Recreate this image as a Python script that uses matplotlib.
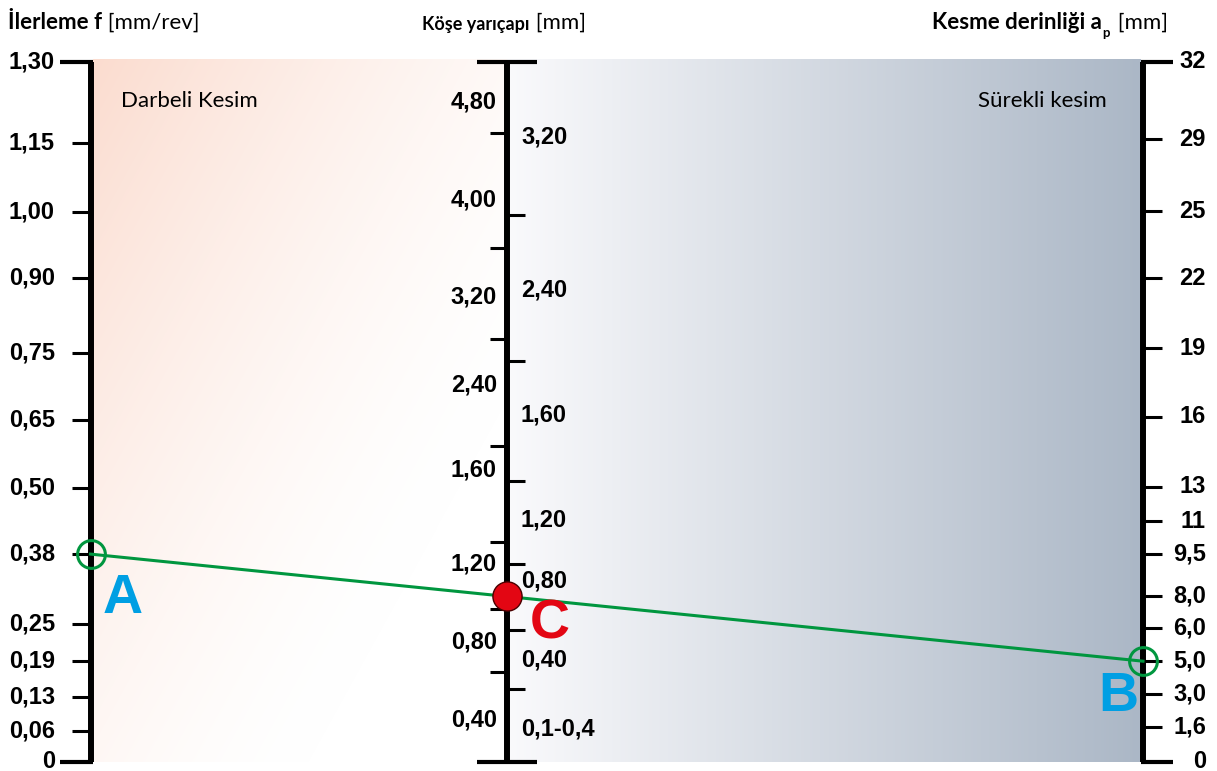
import numpy as np
import matplotlib.pyplot as plt

# feed scale (left), value -> reading along the scale (0 = bottom, 1 = top)
feed_values = [1.30, 1.15, 1.00, 0.90, 0.75, 0.65, 0.50, 0.38, 0.25, 0.19, 0.13, 0.06, 0]
feed_labels = ['1,30', '1,15', '1,00', '0,90', '0,75', '0,65', '0,50', '0,38', '0,25', '0,19',
               '0,13', '0,06', '0']
feed_scale = [1.0, 0.884, 0.786, 0.691, 0.584, 0.489, 0.391, 0.297, 0.197, 0.144, 0.093, 0.044, 0.0]

# depth of cut scale (right)
depth_values = [32, 29, 25, 22, 19, 16, 13, 11, 9.5, 8.0, 6.0, 5.0, 3.0, 1.6, 0]
depth_labels = ['32', '29', '25', '22', '19', '16', '13', '11', '9,5', '8,0', '6,0', '5,0',
                '3,0', '1,6', '0']
depth_scale = [1.0, 0.890, 0.787, 0.691, 0.591, 0.493, 0.393, 0.344, 0.297, 0.237, 0.191,
               0.144, 0.097, 0.050, 0.0]

# corner radius scale (middle): two columns of range labels
radius_left_labels = ['4,80', '4,00', '3,20', '2,40', '1,60', '1,20', '0,80', '0,40']
radius_left_label_scale = [0.943, 0.803, 0.664, 0.539, 0.417, 0.283, 0.171, 0.060]
radius_left_ticks = [0.899, 0.734, 0.604, 0.451, 0.314, 0.219, 0.129]
radius_right_labels = ['3,20', '2,40', '1,60', '1,20', '0,80', '0,40', '0,1-0,4']
radius_right_label_scale = [0.893, 0.674, 0.496, 0.346, 0.259, 0.146, 0.047]
radius_right_ticks = [0.781, 0.573, 0.401, 0.283, 0.189, 0.104]

# example reading
feed_A = 0.38
depth_B = 5.0

# layout
X_F, X_R, X_D = 90.5, 507, 1143
W, H = 1217, 771
Y_TOP_PX, Y_BOT_PX = 62, 762


def u_of_px(ypx):
    return (Y_BOT_PX - ypx) / (Y_BOT_PX - Y_TOP_PX)


TICK_FONT = dict(family='Liberation Sans', fontweight='bold', fontsize=17, color='black')
HEAD_FONT = 'Lato'
BLUE = '#009FE3'
RED = '#E30613'
GREEN = '#00963F'

fig = plt.figure(figsize=(W / 100, H / 100), dpi=100)
ax = fig.add_axes([0, 0, 1, 1])
ax.set_xlim(0, W)
ax.set_ylim(u_of_px(H), u_of_px(0))
ax.axis('off')

# background gradient: peach fading diagonally on the left, grey-blue ramp on the right
bx0, bx1 = 93, 1141
nx, ny = bx1 - bx0, Y_BOT_PX - Y_TOP_PX
xs = np.arange(nx)[None, :] + bx0
ys = np.arange(ny)[:, None] + Y_TOP_PX
peach = np.array([251, 220, 207]) / 255
t = np.clip(((xs - bx0) + 0.55 * (ys - Y_TOP_PX)) / 600.0, 0, 1)
left = 1 - (1 - peach)[None, None, :] * ((1 - t) ** 1.5)[:, :, None]
s = np.clip((xs - X_R) / (bx1 - X_R), 0, 1)
c0 = np.array([250, 250, 252]) / 255
c1 = np.array([171, 183, 198]) / 255
right = c0[None, None, :] * (1 - s)[:, :, None] + c1[None, None, :] * s[:, :, None]
right = np.broadcast_to(right, (ny, nx, 3))
mask = (xs < X_R)[:, :, None]
img = np.where(mask, np.broadcast_to(left, (ny, nx, 3)), right)
ax.imshow(img, extent=[bx0, bx1, 0, 1.003], aspect='auto', zorder=0, interpolation='bilinear')

# vertical scale lines
for x in (X_F, X_R, X_D):
    ax.plot([x, x], [0, 1], color='black', lw=4.3, solid_capstyle='butt', zorder=3)

# end caps
ax.hlines([0, 1], 60, X_F + 2, color='black', lw=3, zorder=3)
ax.hlines([0, 1], 477, 537, color='black', lw=3, zorder=3)
ax.hlines([0, 1], X_D - 2, 1173, color='black', lw=3, zorder=3)

# feed scale
ax.hlines(feed_scale[1:-1], 72, X_F, color='black', lw=2.2, zorder=3)
for lab, u in zip(feed_labels, feed_scale):
    ax.text(55, u, lab, ha='right', va='center', **TICK_FONT)

# depth scale
ax.hlines(depth_scale[1:-1], X_D, 1162, color='black', lw=2.2, zorder=3)
for lab, u in zip(depth_labels, depth_scale):
    ax.text(1206, u, lab, ha='right', va='center', **TICK_FONT)

# radius scale
ax.hlines(radius_left_ticks, 490, X_R, color='black', lw=2.2, zorder=3)
ax.hlines(radius_right_ticks, X_R, 525, color='black', lw=2.2, zorder=3)
for lab, u in zip(radius_left_labels, radius_left_label_scale):
    ax.text(497, u, lab, ha='right', va='center', **TICK_FONT)
for lab, u in zip(radius_right_labels, radius_right_label_scale):
    ax.text(521, u, lab, ha='left', va='center', **TICK_FONT)

# reading line A -> B, C where it crosses the radius scale
uA = np.interp(feed_A, feed_values[::-1], feed_scale[::-1])
uB = np.interp(depth_B, depth_values[::-1], depth_scale[::-1])
uC = uA + (uB - uA) * (X_R - X_F) / (X_D - X_F)
ax.plot([X_F, X_D], [uA, uB], color=GREEN, lw=2.2, zorder=4)
ax.plot([X_F, X_D], [uA, uB], 'o', ms=20, mfc='none', mec=GREEN, mew=2.2, zorder=5)
ax.plot([X_R], [uC], 'o', ms=21, mfc=RED, mec='#4a0000', mew=1, zorder=6)

letter = dict(family='Liberation Sans', fontweight='bold', fontsize=40, ha='center', va='center',
              zorder=6)
ax.annotate('A', (X_F, uA), xytext=(23, -32), textcoords='offset points', color=BLUE, **letter)
ax.annotate('B', (X_D, uB), xytext=(-18, -26), textcoords='offset points', color=BLUE, **letter)
ax.annotate('C', (X_R, uC), xytext=(31, -20), textcoords='offset points', color=RED, **letter)

# region labels
ax.text(121, u_of_px(101), 'Darbeli Kesim', family=HEAD_FONT, fontsize=16, ha='left',
        va='center', zorder=4)
ax.text(1107, u_of_px(101), 'Sürekli kesim', family=HEAD_FONT, fontsize=16, ha='right',
        va='center', zorder=4)

# headers
hy = u_of_px(33)
t1 = ax.text(8, hy, 'İlerleme f', family=HEAD_FONT, fontweight='bold', fontsize=16, va='bottom')
ax.annotate(' [mm/rev]', xy=(1, 0), xycoords=t1, family=HEAD_FONT, fontsize=16, va='bottom')

t2 = ax.text(422, hy, 'Köşe yarıçapı', family=HEAD_FONT, fontweight='bold', fontsize=13,
             va='bottom')
ax.annotate(' [mm]', xy=(1, 0), xycoords=t2, family=HEAD_FONT, fontsize=16, va='bottom')

t3 = ax.text(932, hy, 'Kesme derinliği a', family=HEAD_FONT, fontweight='bold', fontsize=16,
             va='bottom')
ax.annotate('p', xy=(1, 0), xycoords=t3, xytext=(0.5, -4), textcoords='offset points',
            family=HEAD_FONT, fontweight='bold', fontsize=9.5, va='bottom')
ax.annotate(' [mm]', xy=(1, 0), xycoords=t3, xytext=(7, 0), textcoords='offset points',
            family=HEAD_FONT, fontsize=16, va='bottom')

fig.savefig('out.png', dpi=100)
